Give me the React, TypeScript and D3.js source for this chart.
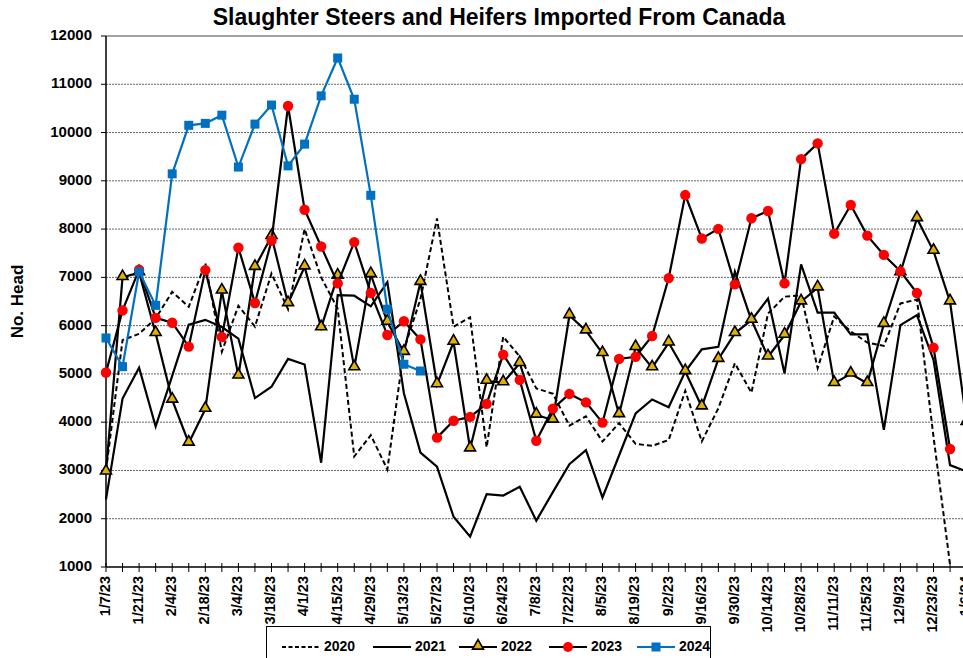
import * as d3 from 'd3';

// weekly categories on the x axis
const weeks = [
  '1/7/23', '1/14/23', '1/21/23', '1/28/23', '2/4/23', '2/11/23', '2/18/23', '2/25/23',
  '3/4/23', '3/11/23', '3/18/23', '3/25/23', '4/1/23', '4/8/23', '4/15/23', '4/22/23',
  '4/29/23', '5/6/23', '5/13/23', '5/20/23', '5/27/23', '6/3/23', '6/10/23', '6/17/23',
  '6/24/23', '7/1/23', '7/8/23', '7/15/23', '7/22/23', '7/29/23', '8/5/23', '8/12/23',
  '8/19/23', '8/26/23', '9/2/23', '9/9/23', '9/16/23', '9/23/23', '9/30/23', '10/7/23',
  '10/14/23', '10/21/23', '10/28/23', '11/4/23', '11/11/23', '11/18/23', '11/25/23', '12/2/23',
  '12/9/23', '12/16/23', '12/23/23', '12/30/23', '1/6/24'
];

const yTicks = [1000, 2000, 3000, 4000, 5000, 6000, 7000, 8000, 9000, 10000, 11000, 12000];

const s2020 = [
  3000, 5700, 5830, 6150, 6700, 6390, 7290, 5460, 6410, 5980, 7080, 6340, 8000, 7000, 6350, 3290,
  3730, 3020, 5500, 6550, 8220, 5980, 6170, 3480, 5770, 5360, 4700, 4590, 3930, 4120, 3600, 3980,
  3550, 3510, 3630, 4650, 3600, 4290, 5220, 4610, 6250, 6600, 6630, 5120, 6190, 5880, 5650, 5580,
  6460, 6540, 3700, 1050
];

const s2021 = [
  2400, 4490, 5130, 3910, 4960, 6020, 6120, 5970, 5730, 4500, 4735, 5310, 5195, 3160, 6630, 6620,
  6400, 6900, 4600, 3370, 3080, 2040, 1630, 2510, 2480, 2660, 1960, 2550, 3130, 3420, 2440, 3310,
  4180, 4470, 4310, 5050, 5510, 5560, 7120, 6110, 6560, 5010, 7270, 6270, 6270, 5820, 5820, 3840,
  6010, 6220, 5290, 3110, 2980
];

const s2022 = [
  2970, 7000, 7100, 5840, 4460, 3570, 4270, 6720, 4960, 7210, 7850, 6460, 7220, 5960, 7030, 5130,
  7060, 6075, 5450, 6900, 4780, 5660, 3450, 4850, 4820, 5220, 4150, 4045, 6210, 5895, 5425, 4160,
  5550, 5130, 5645, 5050, 4320, 5305, 5840, 6115, 5355, 5805, 6495, 6785, 4805, 5000, 4805, 6030,
  7100, 8220, 7545, 6495, 4000
];

const s2023 = [
  5030, 6315, 7160, 6160, 6060, 5565, 7150, 5765, 7615, 6470, 7760, 10550, 8400, 7640, 6875, 7730,
  6675, 5805, 6090, 5715, 3680, 4030, 4110, 4380, 5400, 4875, 3615, 4280, 4585, 4410, 3990, 5310,
  5355, 5785, 6985, 8705, 7805, 8005, 6855, 8225, 8375, 6875, 9450, 9775, 7905, 8500, 7865, 7465,
  7125, 6675, 5545, 3445
];

const s2024 = [
  5745, 5150, 7115, 6420, 9145, 10150, 10190, 10360, 9285, 10175, 10570, 9310, 9760, 10760,
  11545, 10690, 8700, 6340, 5200, 5060
];

const years = ['2020', '2021', '2022', '2023', '2024'];

const FONT = '"Liberation Sans", Arial, sans-serif';
const W = 963;
const H = 658;
const left = 106;
const top = 36;
const bottom = 567;
const step = 16.55;

export default function App() {
  const x = d3.scaleLinear()
    .domain([0, weeks.length - 1])
    .range([left, left + step * (weeks.length - 1)]);
  const y = d3.scaleLinear().domain([1000, 12000]).range([bottom, top]);

  const line = d3.line<number>()
    .x((d, i) => x(i))
    .y(d => y(d));

  const tri = d3.symbol(d3.symbolTriangle, 52)();
  const gold = '#E2B100';

  const legendItems = [
    { label: years[0], dash: '4,2.5', stroke: '#000', marker: null, lx: 282 },
    { label: years[1], dash: null, stroke: '#000', marker: null, lx: 373 },
    { label: years[2], dash: null, stroke: '#000', marker: 'tri', lx: 459 },
    { label: years[3], dash: null, stroke: '#000', marker: 'circle', lx: 549 },
    { label: years[4], dash: null, stroke: '#0070C0', marker: 'square', lx: 637 }
  ];

  return (
    <svg width={W} height={H} style={{ position: 'absolute', left: 0, top: 0, background: '#fff' }}
      fontFamily={FONT}>
      <text x={499} y={25} textAnchor="middle" fontSize={23} fontWeight="bold">
        Slaughter Steers and Heifers Imported From Canada
      </text>

      {/* gridlines */}
      {yTicks.filter(t => t > 1000 && t < 12000).map(t => (
        <line key={t} x1={left} x2={W + 10} y1={y(t)} y2={y(t)}
          stroke="#666" strokeWidth={1} strokeDasharray="2,1" />
      ))}
      <line x1={left} x2={W + 10} y1={y(12000)} y2={y(12000)} stroke="#444" strokeWidth={1} />

      {/* y axis */}
      <line x1={left} x2={left} y1={top} y2={bottom} stroke="#000" strokeWidth={1.5} />
      {yTicks.map(t => (
        <g key={t}>
          <line x1={left - 5} x2={left} y1={y(t)} y2={y(t)} stroke="#000" strokeWidth={1} />
          <text x={92} y={y(t)} textAnchor="end" dominantBaseline="middle" fontSize={15}
            fontWeight="bold">{t}</text>
        </g>
      ))}
      <text transform={`translate(23,${(top + bottom) / 2}) rotate(-90)`} textAnchor="middle"
        fontSize={17} fontWeight="bold">No. Head</text>

      {/* x axis */}
      <line x1={left} x2={W + 10} y1={bottom} y2={bottom} stroke="#000" strokeWidth={1.5} />
      {weeks.map((w, i) => (
        <line key={w} x1={x(i)} x2={x(i)} y1={bottom - 4} y2={bottom + 5} stroke="#000"
          strokeWidth={1} />
      ))}
      {weeks.map((w, i) => i % 2 === 0 && (
        <text key={w} transform={`translate(${x(i)},${bottom + 9}) rotate(-90)`}
          textAnchor="end" dominantBaseline="middle" fontSize={14.5} fontWeight="bold">{w}</text>
      ))}

      {/* series */}
      <path d={line(s2020) || ''} fill="none" stroke="#000" strokeWidth={2}
        strokeDasharray="5,3" />
      <path d={line(s2021) || ''} fill="none" stroke="#000" strokeWidth={2.2} />
      <path d={line(s2022) || ''} fill="none" stroke="#000" strokeWidth={2.2} />
      {s2022.map((d, i) => (
        <path key={i} d={tri || ''} transform={`translate(${x(i)},${y(d) - 1})`}
          fill={gold} stroke="#000" strokeWidth={1.6} />
      ))}
      <path d={line(s2023) || ''} fill="none" stroke="#000" strokeWidth={2.2} />
      {s2023.map((d, i) => (
        <circle key={i} cx={x(i)} cy={y(d)} r={5.2} fill="#FF0000" />
      ))}
      <path d={line(s2024) || ''} fill="none" stroke="#0070C0" strokeWidth={2.2} />
      {s2024.map((d, i) => (
        <rect key={i} x={x(i) - 4.5} y={y(d) - 4.5} width={9} height={9} fill="#0070C0" />
      ))}

      {/* legend */}
      <rect x={266.5} y={626.5} width={444} height={50} fill="#fff" stroke="#000" strokeWidth={1} />
      {legendItems.map(it => (
        <g key={it.label}>
          <line x1={it.lx} x2={it.lx + 38} y1={647} y2={647} stroke={it.stroke}
            strokeWidth={2.2} strokeDasharray={it.dash || undefined} />
          {it.marker === 'tri' && (
            <path d={tri || ''} transform={`translate(${it.lx + 19},646)`} fill={gold}
              stroke="#000" strokeWidth={1.6} />
          )}
          {it.marker === 'circle' && <circle cx={it.lx + 19} cy={647} r={5} fill="#FF0000" />}
          {it.marker === 'square' && (
            <rect x={it.lx + 14.5} y={642.5} width={9} height={9} fill="#0070C0" />
          )}
          <text x={it.lx + 42} y={647} dominantBaseline="middle" fontSize={14}
            fontWeight="bold">{it.label}</text>
        </g>
      ))}
    </svg>
  );
}
